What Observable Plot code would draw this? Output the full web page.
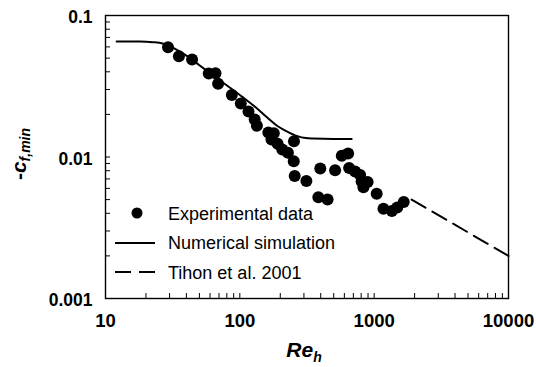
<!DOCTYPE html>
<html><head><meta charset="utf-8">
<script src="https://cdn.jsdelivr.net/npm/d3@7"></script>
<script src="https://cdn.jsdelivr.net/npm/@observablehq/plot@0.6"></script>
<style>
body{margin:0;background:#fff}
svg{font-family:"Liberation Sans",Arial,sans-serif}
</style>
</head><body><div id="chart"></div>
<script>
// Experimental data (Re_h, -c_f,min)
const expRe = [29.2, 35.2, 44.1, 58.7, 65.9, 68.9, 87.2, 101.7, 116, 129, 134, 163, 179, 172, 191, 207, 228, 253, 252, 256, 313, 397, 512, 384, 450, 574, 640, 651, 721, 786, 806, 894, 832, 1044, 1173, 1355, 1485, 1660];
const expCf = [0.0597, 0.0516, 0.0489, 0.0389, 0.0391, 0.0329, 0.0274, 0.0239, 0.0210, 0.0184, 0.0166, 0.0149, 0.0147, 0.0133, 0.0124, 0.0113, 0.0107, 0.0129, 0.00934, 0.00734, 0.00677, 0.00829, 0.00807, 0.0052, 0.0050, 0.0102, 0.0106, 0.00836, 0.0079, 0.00746, 0.00671, 0.00666, 0.00612, 0.0055, 0.00431, 0.00415, 0.0044, 0.0048];
// Numerical simulation
const simRe = [12.1, 18, 22.5, 26.6, 33, 40, 50, 65, 84, 105, 133, 160, 188, 220, 265, 310, 352, 500, 680];
const simCf = [0.0655, 0.0655, 0.0648, 0.0634, 0.058, 0.052, 0.0445, 0.037, 0.031, 0.0265, 0.0222, 0.019, 0.0167, 0.0153, 0.0141, 0.0136, 0.0135, 0.0134, 0.0134];
// Tihon et al. 2001
const tihonRe = [1900, 10000];
const tihonCf = [0.0050, 0.0020];
// Tick labels
const xTickLabels = [10, 100, 1000, 10000];
const yTickLabels = [0.001, 0.01, 0.1];
const xTickMarks = [20,30,40,50,60,70,80,90,100,200,300,400,500,600,700,800,900,1000,2000,3000,4000,5000,6000,7000,8000,9000];
const yTickMarks = [0.002,0.003,0.004,0.005,0.006,0.007,0.008,0.009,0.01,0.02,0.03,0.04,0.05,0.06,0.07,0.08,0.09];
// Legend entries
const legendLabels = ["Experimental data", "Numerical simulation", "Tihon et al. 2001"];

const exp = expRe.map((x, i) => ({x, y: expCf[i]}));
const sim = simRe.map((x, i) => ({x, y: simCf[i]}));
const tihon = tihonRe.map((x, i) => ({x, y: tihonCf[i]}));

const W = 536, H = 367, mL = 105, mR = 28, mT = 15, mB = 69;
const innerW = W - mL - mR, innerH = H - mT - mB;

const chart = Plot.plot({
  width: W, height: H,
  marginLeft: mL, marginRight: mR, marginTop: mT, marginBottom: mB,
  x: {type: "log", domain: [10, 10000]},
  y: {type: "log", domain: [0.001, 0.1]},
  style: {fontFamily: '"Liberation Sans", Arial, sans-serif', background: "white", color: "black"},
  marks: [
    Plot.ruleX(xTickMarks, {x: d => d, insetTop: innerH - 5, stroke: "black", strokeWidth: 1}),
    Plot.ruleY(yTickMarks, {y: d => d, insetRight: innerW - 5, stroke: "black", strokeWidth: 1}),
    Plot.axisX(xTickLabels, {tickSize: 0, tickPadding: 15, fontSize: 18.5, fontWeight: "bold", tickFormat: d => String(d), label: null}),
    Plot.axisY(yTickLabels, {tickSize: 0, tickPadding: 13, dy: 2, fontSize: 17.5, fontWeight: "bold", tickFormat: d => String(d), label: null}),
    Plot.line(sim, {x: "x", y: "y", curve: "monotone-x", stroke: "black", strokeWidth: 2}),
    Plot.line(tihon, {x: "x", y: "y", stroke: "black", strokeWidth: 2, strokeDasharray: "16,8"}),
    Plot.dot(exp, {x: "x", y: "y", r: 6, fill: "black", stroke: "none"}),
    Plot.frame({stroke: "black", strokeWidth: 1.4})
  ]
});

const svg = d3.select(chart);
const xLabelSet = new Set(xTickLabels.map(String));
const yLabelSet = new Set(yTickLabels.map(String));
svg.selectAll("text").each(function() {
  const t = this.textContent;
  if (xLabelSet.has(t)) d3.select(this).style("font-size", "18.5px").style("font-weight", "bold");
  else if (yLabelSet.has(t)) d3.select(this).style("font-size", "17.5px").style("font-weight", "bold");
});

// Axis titles
const xt = svg.append("text").attr("x", 304).attr("y", 357).attr("text-anchor", "middle")
  .attr("font-size", 21).attr("font-weight", "bold").attr("font-style", "italic").attr("fill", "black");
xt.append("tspan").text("Re");
xt.append("tspan").attr("font-size", 14).attr("dy", 5).text("h");

const yt = svg.append("text").attr("transform", "translate(26,154) rotate(-90)").attr("text-anchor", "middle")
  .attr("font-size", 21).attr("font-weight", "bold").attr("fill", "black");
yt.append("tspan").text("-");
yt.append("tspan").attr("font-style", "italic").text("c");
yt.append("tspan").attr("font-style", "italic").attr("font-size", 14).attr("dy", 4).text("f,min");

// Legend
const lg = svg.append("g").attr("font-size", 18).attr("fill", "black").attr("text-anchor", "start");
lg.append("circle").attr("cx", 137).attr("cy", 213).attr("r", 5.5).attr("fill", "black");
lg.append("line").attr("x1", 115).attr("x2", 155).attr("y1", 243).attr("y2", 243).attr("stroke", "black").attr("stroke-width", 2);
lg.append("line").attr("x1", 115).attr("x2", 155).attr("y1", 272).attr("y2", 272).attr("stroke", "black").attr("stroke-width", 2).attr("stroke-dasharray", "16,8");
legendLabels.forEach((t, i) => {
  lg.append("text").attr("x", 168).attr("y", 219.5 + i * 29.5).text(t);
});

document.getElementById("chart").append(chart);
</script>
</body></html>
